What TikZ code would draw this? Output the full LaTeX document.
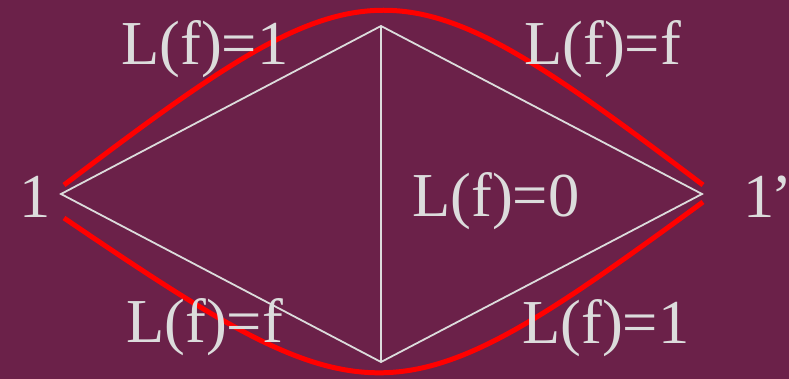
\documentclass[tikz,border=0pt]{standalone}
\usepackage{fontspec}
\setmainfont{Liberation Serif}
\definecolor{bgc}{HTML}{6B2149}
\definecolor{txt}{HTML}{DCDCDC}
\definecolor{redc}{HTML}{FF0000}
\begin{document}
\begin{tikzpicture}[x=1pt,y=-1pt,
  lbl/.style={anchor=base west,inner sep=0pt,text=txt,font=\fontsize{62.5}{70}\selectfont},
  edge/.style={draw=txt,line width=1.8pt},
  redarc/.style={draw=redc,line width=5pt}]
\fill[bgc] (0,0) rectangle (789,379);
\useasboundingbox (0,0) rectangle (789,379);
\coordinate (A) at (61,194);
\coordinate (T) at (381,26);
\coordinate (B) at (702,194);
\coordinate (D) at (381,362);
\draw[edge] (A) -- (T) -- (B) -- (D) -- cycle;
\draw[edge] (T) -- (D);
\coordinate (r1) at (64,185);
\coordinate (r2) at (703,185);
\coordinate (r3) at (64,218);
\coordinate (r4) at (703,202);
\draw[redarc] (r1) .. controls (372,-48) and (395,-48) .. (r2);
\draw[redarc] (r3) .. controls (372,427) and (395,427) .. (r4);
\node[lbl] (n1) at (19,218) {1};
\node[lbl] (n1p) at (743,218) {1\kern-3pt\rlap{’}};
\node[lbl] (tl) at (121,65) {L(f)=1};
\node[lbl] (tr) at (524,65) {L(f)=f};
\node[lbl] (mid) at (412,217) {L(f)=0};
\node[lbl] (bl) at (126,342) {L(f)=f};
\node[lbl] (br) at (522,343) {L(f)=1};
\end{tikzpicture}
\end{document}
